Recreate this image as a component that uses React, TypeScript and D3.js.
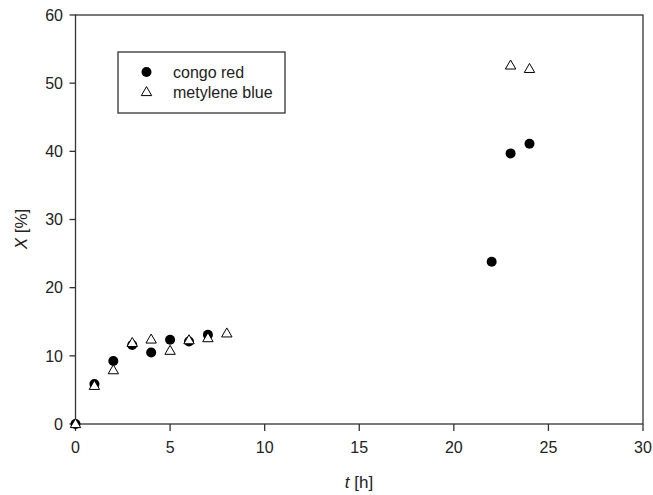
import React from "react";
import * as d3 from "d3";

const congoT = [0, 1, 2, 3, 4, 5, 6, 7, 22, 23, 24];
const congoX = [0, 5.85, 9.25, 11.6, 10.5, 12.35, 12.1, 13.1, 23.8, 39.7, 41.1];
const blueT = [0, 1, 2, 3, 4, 5, 6, 7, 8, 23, 24];
const blueX = [0, 5.6, 7.9, 11.9, 12.4, 10.75, 12.3, 12.6, 13.3, 52.6, 52.1];
const xTicks = [0, 5, 10, 15, 20, 25, 30];
const yTicks = [0, 10, 20, 30, 40, 50, 60];
const legendLabels = ["congo red", "metylene blue"];

const W = 653;
const H = 495;
const left = 75.5;
const right = 643;
const top = 15;
const bottom = 424;
const font = "'Liberation Sans', Arial, sans-serif";

function triPath(cx: number, cy: number, s = 5.2) {
  const h = s * 1.732;
  return `M${cx},${cy - h * 0.6} L${cx + s},${cy + h * 0.4} L${cx - s},${cy + h * 0.4} Z`;
}

export default function App() {
  const x = d3.scaleLinear().domain([0, 30]).range([left, right]);
  const y = d3.scaleLinear().domain([0, 60]).range([bottom, top]);
  const axisColor = "#333";
  return (
    <svg
      width={W}
      height={H}
      style={{ position: "absolute", left: 0, top: 0, background: "#fff" }}
      fontFamily={font}
    >
      <rect x={0} y={0} width={W} height={H} fill="#fff" />
      <rect
        x={left}
        y={top}
        width={right - left}
        height={bottom - top}
        fill="none"
        stroke={axisColor}
        strokeWidth={1.3}
      />
      {xTicks.map((t) => (
        <g key={"x" + t}>
          <line x1={x(t)} x2={x(t)} y1={bottom} y2={bottom + 7} stroke={axisColor} strokeWidth={1.3} />
          <text x={x(t)} y={453} fontSize={16} textAnchor="middle" fill="#222">
            {t}
          </text>
        </g>
      ))}
      {yTicks.map((v) => (
        <g key={"y" + v}>
          <line x1={left - 6} x2={left} y1={y(v)} y2={y(v)} stroke={axisColor} strokeWidth={1.3} />
          <text x={63} y={y(v) + 5.8} fontSize={16} textAnchor="end" fill="#222">
            {v}
          </text>
        </g>
      ))}
      <text x={359} y={488} fontSize={17} textAnchor="middle" fill="#222">
        <tspan fontStyle="italic">t</tspan> [h]
      </text>
      <text
        transform={`translate(27,229) rotate(-90)`}
        fontSize={17}
        textAnchor="middle"
        fill="#222"
      >
        <tspan fontStyle="italic">X</tspan> [%]
      </text>
      {congoT.map((t, i) => (
        <circle key={"c" + i} cx={x(t)} cy={y(congoX[i])} r={5} fill="#000" />
      ))}
      {blueT.map((t, i) => (
        <path
          key={"b" + i}
          d={triPath(x(t), y(blueX[i]))}
          fill="#fff"
          stroke="#000"
          strokeWidth={1}
        />
      ))}
      <rect x={118} y={52} width={167} height={61} fill="#fff" stroke={axisColor} strokeWidth={1.3} />
      <circle cx={146.5} cy={72} r={5} fill="#000" />
      <path d={triPath(146.5, 92)} fill="#fff" stroke="#000" strokeWidth={1} />
      <text x={173} y={77.5} fontSize={16} fill="#222">
        {legendLabels[0]}
      </text>
      <text x={173} y={97.5} fontSize={16} fill="#222">
        {legendLabels[1]}
      </text>
    </svg>
  );
}
